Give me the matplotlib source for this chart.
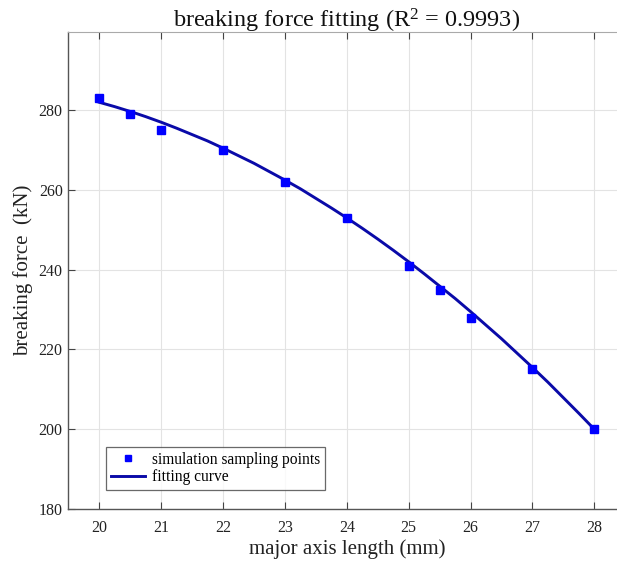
import numpy as np
import matplotlib
matplotlib.use("Agg")
import matplotlib.pyplot as plt

plt.rcParams["font.family"] = ["Liberation Serif", "DejaVu Serif"]
plt.rcParams["mathtext.fontset"] = "custom"
plt.rcParams["mathtext.rm"] = "Liberation Serif"
plt.rcParams["mathtext.default"] = "regular"

# simulation sampling points
length_mm = [20, 20.5, 21, 22, 23, 24, 25, 25.5, 26, 27, 28]
force_kn = [283, 279, 275, 270, 262, 253, 241, 235, 228, 215, 200]

# fitting curve
fit_x = [20, 20.25, 20.5, 20.75, 21, 21.25, 21.5, 21.75, 22, 22.25, 22.5, 22.75,
         23, 23.25, 23.5, 23.75, 24, 24.25, 24.5, 24.75, 25, 25.25, 25.5, 25.75,
         26, 26.25, 26.5, 26.75, 27, 27.25, 27.5, 27.75, 28]
fit_y = [282, 280.9, 279.7, 278.4, 277, 275.5, 273.9, 272.3, 270.5, 268.6,
         266.7, 264.6, 262.5, 260.3, 257.9, 255.5, 253, 250.4, 247.7, 244.9,
         242, 239.0, 235.9, 232.8, 229.5, 226.1, 222.7, 219.1, 215.5, 211.8,
         207.9, 204.0, 200]

xticks = [20, 21, 22, 23, 24, 25, 26, 27, 28]
yticks = [180, 200, 220, 240, 260, 280]

fig = plt.figure(figsize=(6.17, 5.68), dpi=100)
ax = fig.add_axes([0.1107, 0.1039, 0.9027, 0.8403])

ax.plot(length_mm, force_kn, "s", color="#0000ff", markersize=5.5,
        label="simulation sampling points", zorder=3)
ax.plot(fit_x, fit_y, "-", color="#0a0aa8", linewidth=2.1,
        solid_joinstyle="round", label="fitting curve", zorder=2)

ax.set_xlim(19.5, 28.5)
ax.set_ylim(180, 299.7)
ax.set_xticks(xticks)
ax.set_yticks(yticks)
ax.grid(True, color="#e3e3e3", linewidth=0.8)
ax.set_axisbelow(True)
ax.tick_params(direction="in", length=5, width=0.8, labelsize=11.5,
               top=True, colors="#444444", labelcolor="#222222")
ax.tick_params(axis="x", pad=8)
ax.tick_params(axis="y", pad=4)
for side in ["left", "bottom"]:
    ax.spines[side].set_color("#555555")
    ax.spines[side].set_linewidth(1.0)
ax.spines["top"].set_color("#aaaaaa")
ax.spines["right"].set_color("#aaaaaa")

ax.set_title("breaking force fitting (R$^{2}$ = 0.9993)", fontsize=17.5, pad=3,
             color="#111111")
ax.set_xlabel("major axis length (mm)", fontsize=15, labelpad=2, color="#222222")
ax.set_ylabel("breaking force  (kN)", fontsize=15, labelpad=4, color="#222222")

leg = ax.legend(loc="lower left", bbox_to_anchor=(0.068, 0.04), borderaxespad=0,
                fontsize=11.2, frameon=True, fancybox=False, edgecolor="#444444",
                handlelength=2.2, handletextpad=0.45, borderpad=0.3,
                labelspacing=0.1, markerscale=0.9)
leg.get_frame().set_linewidth(0.9)

fig.savefig("out.png", dpi=100)
